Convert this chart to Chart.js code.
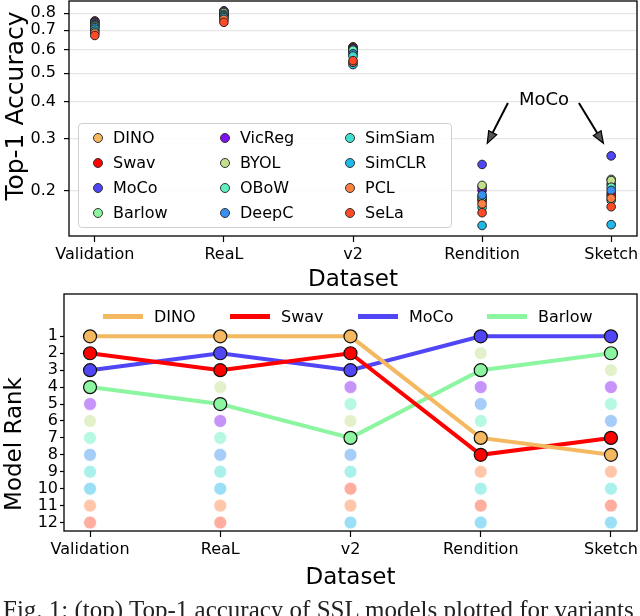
<!DOCTYPE html>
<html>
<head>
<meta charset="utf-8">
<script src="https://cdn.jsdelivr.net/npm/chart.js@4.4.1/dist/chart.umd.min.js"></script>
<style>
  body { margin: 0; width: 640px; height: 616px; overflow: hidden; background: #fff; position: relative; font-family: "DejaVu Sans", sans-serif; }
  canvas { position: absolute; left: 0; }
  .ytitle { position: absolute; white-space: nowrap; transform: translate(-50%, -50%) rotate(-90deg); color: #000; }
  #accLegend { position: absolute; left: 78px; top: 123px; width: 372px; height: 103px; border: 1px solid #d0d0d0; border-radius: 4px; background: rgba(255,255,255,0.85); }
  .lcol { position: absolute; top: 1px; }
  .litem { height: 25px; display: flex; align-items: center; font-size: 16px; white-space: nowrap; }
  .ldot { width: 8px; height: 8px; border-radius: 50%; border: 1px solid #333; margin-right: 10px; }
  .rkitem { position: absolute; top: 305px; height: 22px; display: flex; align-items: center; font-size: 16px; }
  .rkline { width: 40px; height: 5px; margin-right: 11px; }
  #caption { position: absolute; left: 3px; top: 597px; font-family: "Liberation Serif", serif; font-size: 25px; line-height: 25px; white-space: nowrap; color: #222; }
</style>
</head>
<body>
<canvas id="accChart" width="640" height="294" style="top:0"></canvas>
<canvas id="rankChart" width="640" height="302" style="top:290px"></canvas>
<div class="ytitle" style="left:14px; top:106px; font-size:25px">Top-1 Accuracy</div>
<div class="ytitle" style="left:13px; top:444px; font-size:23px">Model Rank</div>
<div id="accLegend"></div>
<div id="rankLegend"></div>
<div id="caption">Fig. 1: (top) Top-1 accuracy of SSL models plotted for variants</div>
<script>
// Datasets on the x axis
const categories = ['Validation', 'ReaL', 'v2', 'Rendition', 'Sketch'];

// SSL models, in legend order
const models = ['DINO', 'Swav', 'MoCo', 'Barlow', 'VicReg', 'BYOL', 'OBoW', 'DeepC', 'SimSiam', 'SimCLR', 'PCL', 'SeLa'];
const modelColors = ['#f4b860', '#ff0000', '#5046f5', '#8cf5a0', '#8010f0', '#c2e08c', '#60f0c0', '#3890f0', '#40e0d0', '#20b8e8', '#ff8040', '#ff4a28'];

// Top-1 accuracy per model: Validation, ReaL, v2, Rendition, Sketch
const accuracy = [
    [0.753, 0.815, 0.615, 0.187, 0.192], // DINO
    [0.750, 0.808, 0.612, 0.184, 0.195], // Swav
    [0.745, 0.812, 0.608, 0.245, 0.262], // MoCo
    [0.738, 0.800, 0.590, 0.205, 0.218], // Barlow
    [0.732, 0.797, 0.604, 0.200, 0.210], // VicReg
    [0.727, 0.804, 0.595, 0.208, 0.216], // BYOL
    [0.722, 0.793, 0.599, 0.190, 0.205], // OBoW
    [0.715, 0.787, 0.582, 0.193, 0.200], // DeepC
    [0.705, 0.780, 0.572, 0.175, 0.185], // SimSiam
    [0.695, 0.772, 0.535, 0.152, 0.153], // SimCLR
    [0.685, 0.762, 0.545, 0.180, 0.188], // PCL
    [0.672, 0.745, 0.552, 0.168, 0.176]  // SeLa
];

// Rank of each model on each dataset
const ranks = [
    [1, 1, 1, 7, 8],
    [2, 3, 2, 8, 7],
    [3, 2, 3, 1, 1],
    [4, 5, 7, 3, 2],
    [5, 6, 4, 4, 4],
    [6, 4, 6, 2, 3],
    [7, 7, 5, 6, 5],
    [8, 8, 8, 5, 6],
    [9, 9, 9, 10, 10],
    [10, 10, 12, 12, 12],
    [11, 11, 11, 9, 9],
    [12, 12, 10, 11, 11]
];

const highlighted = ['DINO', 'Swav', 'MoCo', 'Barlow'];
const accTicks = [0.2, 0.3, 0.4, 0.5, 0.6, 0.7, 0.8];
const rankTicks = [1, 2, 3, 4, 5, 6, 7, 8, 9, 10, 11, 12];

const FONT = 'DejaVu Sans';
Chart.defaults.font.family = FONT;
Chart.defaults.color = '#000';

function fade(hex, a) {
    const n = parseInt(hex.slice(1), 16);
    return `rgba(${(n >> 16) & 255},${(n >> 8) & 255},${n & 255},${a})`;
}

// fixed axis box, no extra room for overhanging labels
function fixBox(s, w, h) {
    if (w) s.width = w;
    if (h) s.height = h;
    s.paddingTop = s.paddingBottom = s.paddingLeft = s.paddingRight = 0;
}

// black box around the plot area
const frame = {
    id: 'frame',
    afterDatasetsDraw(chart) {
        const a = chart.chartArea, ctx = chart.ctx;
        ctx.save();
        ctx.strokeStyle = '#000';
        ctx.lineWidth = 1.3;
        ctx.strokeRect(a.left, a.top, a.right - a.left, a.bottom - a.top);
        ctx.restore();
    }
};

// "MoCo" note with two arrows
const mocoNote = {
    id: 'mocoNote',
    afterDatasetsDraw(chart) {
        const x = chart.scales.x, y = chart.scales.y, ctx = chart.ctx;
        ctx.save();
        ctx.font = '18px ' + FONT;
        ctx.fillStyle = '#000';
        ctx.textAlign = 'center';
        ctx.textBaseline = 'middle';
        ctx.fillText('MoCo', x.getPixelForValue(3.48), y.getPixelForValue(0.405));
        [[3.2, 0.396, 3.04, 0.289], [3.75, 0.396, 3.94, 0.289]].forEach(([x0, y0, x1, y1]) => {
            const px0 = x.getPixelForValue(x0), py0 = y.getPixelForValue(y0);
            const px1 = x.getPixelForValue(x1), py1 = y.getPixelForValue(y1);
            const ang = Math.atan2(py1 - py0, px1 - px0);
            const len = 12, half = 4.5;
            const bx = px1 - len * Math.cos(ang), by = py1 - len * Math.sin(ang);
            ctx.strokeStyle = '#000';
            ctx.lineWidth = 2;
            ctx.beginPath();
            ctx.moveTo(px0, py0);
            ctx.lineTo(bx, by);
            ctx.stroke();
            ctx.beginPath();
            ctx.moveTo(px1, py1);
            ctx.lineTo(bx + half * Math.sin(ang), by - half * Math.cos(ang));
            ctx.lineTo(bx - half * Math.sin(ang), by + half * Math.cos(ang));
            ctx.closePath();
            ctx.fillStyle = '#555';
            ctx.fill();
            ctx.lineWidth = 1.2;
            ctx.stroke();
        });
        ctx.restore();
    }
};

function categoryAxis(height) {
    return {
        type: 'linear',
        min: -0.2,
        max: 4.2,
        afterBuildTicks: s => { s.ticks = categories.map((c, i) => ({ value: i })); },
        afterFit: s => fixBox(s, 0, height),
        ticks: { callback: v => categories[v], font: { size: 16 }, maxRotation: 0, autoSkip: false, padding: 3 },
        grid: { drawOnChartArea: false, tickLength: 6, tickColor: '#000', tickWidth: 1.2 },
        border: { display: false },
        title: { display: true, text: 'Dataset', font: { size: 23 }, padding: 0 }
    };
}

// Top: accuracy scatter
new Chart(document.getElementById('accChart'), {
    type: 'scatter',
    data: {
        datasets: models.map((m, i) => ({
            label: m,
            data: accuracy[i].map((v, j) => ({ x: j, y: v })),
            backgroundColor: modelColors[i],
            borderColor: '#222',
            borderWidth: 1,
            pointRadius: 4.3,
            order: models.length - i
        }))
    },
    options: {
        responsive: false,
        animation: false,
        layout: { autoPadding: false, padding: { top: 1, right: 3, left: 0, bottom: 0 } },
        plugins: { legend: { display: false }, tooltip: { enabled: false } },
        scales: {
            x: categoryAxis(58),
            y: {
                type: 'logarithmic',
                min: 0.14,
                max: 0.88,
                afterBuildTicks: s => { s.ticks = accTicks.map(v => ({ value: v })); },
                afterFit: s => fixBox(s, 69, 0),
                ticks: { callback: v => String(v), font: { size: 16 }, padding: 8, autoSkip: false },
                grid: { color: '#e6e6e6', lineWidth: 1.2, tickLength: 5, tickColor: '#000', tickWidth: 1.2 },
                border: { display: false }
            }
        }
    },
    plugins: [frame, mocoNote]
});

// Bottom: ranks, four models highlighted
const rankSets = models.map((m, i) => {
    const hi = highlighted.includes(m);
    return {
        label: m,
        data: ranks[i].map((r, j) => ({ x: j, y: r })),
        showLine: hi,
        borderColor: modelColors[i],
        borderWidth: 4,
        pointRadius: 6.5,
        pointBackgroundColor: hi ? modelColors[i] : fade(modelColors[i], 0.45),
        pointBorderColor: hi ? '#111' : 'rgba(255,255,255,0.8)',
        pointBorderWidth: hi ? 1.2 : 1,
        tension: 0,
        order: hi ? 1 : 2
    };
});

new Chart(document.getElementById('rankChart'), {
    type: 'line',
    data: { datasets: rankSets },
    options: {
        responsive: false,
        animation: false,
        layout: { autoPadding: false, padding: { top: 4, right: 3, left: 0, bottom: 0 } },
        plugins: { legend: { display: false }, tooltip: { enabled: false } },
        scales: {
            x: categoryAxis(61),
            y: {
                type: 'linear',
                reverse: true,
                min: -1.5,
                max: 12.5,
                afterBuildTicks: s => { s.ticks = rankTicks.map(v => ({ value: v })); },
                afterFit: s => fixBox(s, 64, 0),
                ticks: { font: { size: 16 }, padding: 2, autoSkip: false },
                grid: { drawOnChartArea: false, tickLength: 4, tickColor: '#000', tickWidth: 1.2 },
                border: { display: false }
            }
        }
    },
    plugins: [frame]
});

// Legend for the top chart: 3 columns of 4
const accLegend = document.getElementById('accLegend');
[14, 141, 266].forEach((left, c) => {
    const col = document.createElement('div');
    col.className = 'lcol';
    col.style.left = left + 'px';
    models.slice(c * 4, c * 4 + 4).forEach((m, k) => {
        const i = c * 4 + k;
        col.innerHTML += `<div class="litem"><span class="ldot" style="background:${modelColors[i]}"></span>${m}</div>`;
    });
    accLegend.appendChild(col);
});

// Legend for the rank chart: one row
const rankLegend = document.getElementById('rankLegend');
[103, 230, 358, 487].forEach((left, k) => {
    const i = models.indexOf(highlighted[k]);
    rankLegend.innerHTML += `<div class="rkitem" style="left:${left}px"><span class="rkline" style="background:${modelColors[i]}"></span>${highlighted[k]}</div>`;
});
</script>
</body>
</html>
